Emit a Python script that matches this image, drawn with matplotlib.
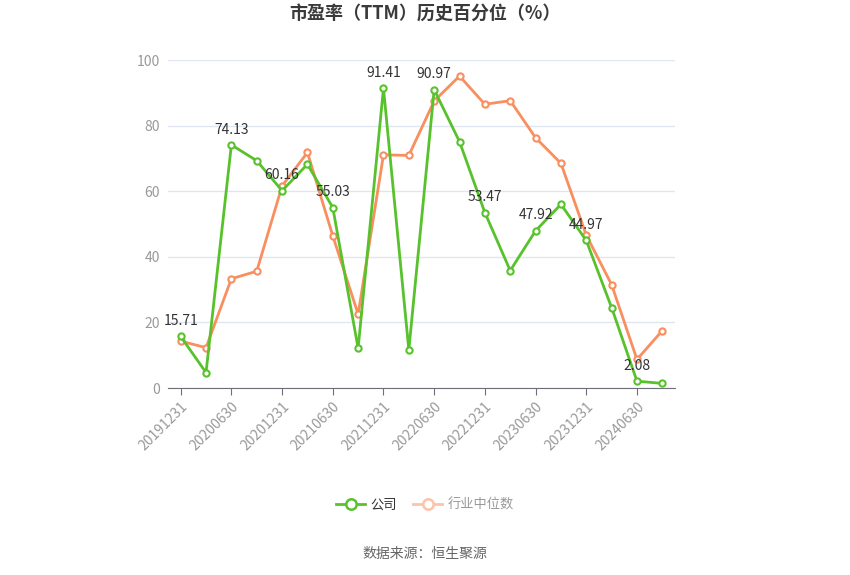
import matplotlib
matplotlib.use("Agg")
import matplotlib.pyplot as plt
from matplotlib.lines import Line2D

plt.rcParams['font.family'] = ['Noto Sans CJK SC', 'DejaVu Sans']

dates = ["20191231", "20200331", "20200630", "20200930", "20201231", "20210331",
         "20210630", "20210930", "20211231", "20220331", "20220630", "20220930",
         "20221231", "20230331", "20230630", "20230930", "20231231", "20240331",
         "20240630", "20240930"]
company = [15.71, 4.7, 74.13, 69.3, 60.16, 68.2, 55.03, 12.1, 91.41, 11.6,
           90.97, 75.1, 53.47, 35.8, 47.92, 56.0, 44.97, 24.5, 2.08, 1.4]
industry = [14.3, 12.3, 33.3, 35.6, 61.6, 71.8, 46.4, 22.5, 71.1, 70.9,
            87.5, 95.1, 86.5, 87.6, 76.3, 68.5, 46.6, 31.5, 8.7, 17.5]
yticks = [0, 20, 40, 60, 80, 100]
title = "市盈率（TTM）历史百分位（%）"
source = "数据来源：恒生聚源"
legend_labels = ["公司", "行业中位数"]

green = "#58C22C"
orange = "#F98E5E"
orange_faded = "#FCC3AA"

fig = plt.figure(figsize=(8.5, 5.75), dpi=100)
ax = fig.add_axes([168/850, 1-388/575, (675-168)/850, (388-60)/575])

x = list(range(len(dates)))
ax.plot(x, company, color=green, lw=2, marker='o', ms=4.5, mfc='white',
        mec=green, mew=1.5, zorder=4)
ax.plot(x, industry, color=orange, lw=2, marker='o', ms=4.5, mfc='white',
        mec=orange, mew=1.5, zorder=3)

for i in range(0, len(dates), 2):
    ax.annotate(f"{company[i]:.2f}", (x[i], company[i]), xytext=(0, 6),
                textcoords='offset points', ha='center', va='bottom',
                fontsize=10, color='#333333', zorder=5)

ax.set_xlim(-0.5, len(dates) - 0.5)
ax.set_ylim(0, 100)
ax.set_yticks(yticks)
ax.set_yticklabels([str(v) for v in yticks], color='#999999', fontsize=10)
ax.set_xticks(x[::2])
ax.set_xticklabels(dates[::2], rotation=45, ha='right', rotation_mode='anchor',
                   color='#999999', fontsize=10)
ax.tick_params(axis='y', length=0, pad=6)
ax.tick_params(axis='x', length=5, color='#6E7079', pad=3)
ax.grid(axis='y', color='#E0E6F1', lw=1)
ax.set_axisbelow(True)
for s in ['top', 'right', 'left']:
    ax.spines[s].set_visible(False)
ax.spines['bottom'].set_color('#6E7079')

fig.text(0.5, 1-14/575, title, ha='center', va='center', fontsize=13,
         fontweight='bold', color='#3a3a3a')
fig.text(0.5, 1-554/575, source, ha='center', va='center', fontsize=10,
         color='#666666')

handles = [Line2D([0], [0], color=green, lw=2, marker='o', ms=7.5, mfc='white',
                  mec=green, mew=1.8),
           Line2D([0], [0], color=orange_faded, lw=2, marker='o', ms=7.5,
                  mfc='white', mec=orange_faded, mew=1.8)]
leg = fig.legend(handles, legend_labels, loc='center',
                 bbox_to_anchor=(0.5, 1-505/575), ncol=2, frameon=False,
                 fontsize=9.5, handlelength=2.2, columnspacing=1.2,
                 handletextpad=0.4)
leg.get_texts()[0].set_color('#333333')
leg.get_texts()[1].set_color('#999999')

fig.savefig("out.png", dpi=100)
